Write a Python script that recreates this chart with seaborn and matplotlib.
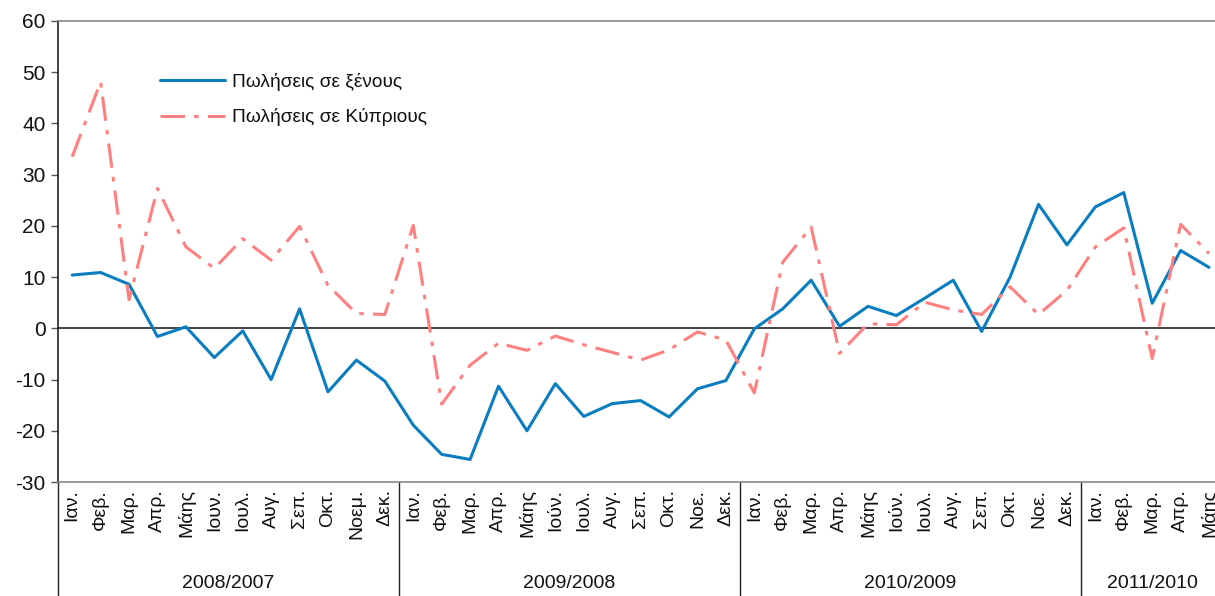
import matplotlib
matplotlib.use("Agg")
import matplotlib.pyplot as plt
import matplotlib.transforms as mtransforms
import seaborn as sns
import pandas as pd
import numpy as np

# ---- data ----
groups = ["2008/2007", "2009/2008", "2010/2009", "2011/2010"]
months_2008 = ["Ιαν.", "Φεβ.", "Μαρ.", "Απρ.", "Μάης", "Ιουν.", "Ιουλ.", "Αυγ.", "Σεπ.", "Οκτ.", "Νοεμ.", "Δεκ."]
months_2009 = ["Ιαν.", "Φεβ.", "Μαρ.", "Απρ.", "Μάης", "Ιούν.", "Ιουλ.", "Αυγ.", "Σεπ.", "Οκτ.", "Νοε.", "Δεκ."]
months_2010 = ["Ιαν.", "Φεβ.", "Μαρ.", "Απρ.", "Μάης", "Ιούν.", "Ιουλ.", "Αυγ.", "Σεπ.", "Οκτ.", "Νοε.", "Δεκ."]
months_2011 = ["Ιαν.", "Φεβ.", "Μαρ.", "Απρ.", "Μάης"]
group_sizes = [12, 12, 12, 5]

sales_foreign = [10.4, 10.9, 8.6, -1.6, 0.3, -5.7, -0.5, -10.0, 3.8, -12.4, -6.2, -10.3,
                 -18.9, -24.6, -25.6, -11.3, -20.0, -10.8, -17.2, -14.7, -14.1, -17.3, -11.8, -10.2,
                 -0.1, 3.8, 9.4, 0.4, 4.3, 2.5, 5.9, 9.4, -0.6, 10.0, 24.2, 16.3,
                 23.7, 26.5, 4.9, 15.2, 11.9]
sales_cypriots = [33.5, 48.1, 5.6, 27.3, 15.9, 11.7, 17.5, 13.3, 19.9, 8.4, 2.9, 2.7,
                  20.1, -14.8, -7.2, -2.9, -4.3, -1.5, -3.2, -4.7, -6.2, -4.2, -0.7, -2.3,
                  -12.6, 12.9, 19.8, -4.9, 0.9, 0.7, 5.1, 3.6, 2.7, 8.1, 2.7, 7.4,
                  15.9, 19.6, -5.9, 20.3, 14.6]
series_names = ["Πωλήσεις σε ξένους", "Πωλήσεις σε Κύπριους"]

month_labels = months_2008 + months_2009 + months_2010 + months_2011
idx = np.arange(len(month_labels))
df = pd.DataFrame({"idx": idx, "foreign": sales_foreign, "cyp": sales_cypriots})

# ---- style ----
sns.set_theme(style="white")
plt.rcParams["font.family"] = ["Liberation Sans", "DejaVu Sans"]
plt.rcParams["axes.unicode_minus"] = False

fig = plt.figure(figsize=(12.15, 5.96), dpi=100)
ax = fig.add_axes([58 / 1215, 1 - 482 / 596, 1 - 58 / 1215, (482 - 21) / 596])

blue = "#0A7DC0"
pink = "#FF8080"
dash = (8, 3, 1.5, 3)

sns.lineplot(data=df, x="idx", y="foreign", ax=ax, color=blue, linewidth=2.2,
             label=series_names[0])
sns.lineplot(data=df, x="idx", y="cyp", ax=ax, color=pink, linewidth=2.2,
             label=series_names[1], dashes=False)
ax.lines[1].set_dashes(dash)

ax.axhline(0, color="#222222", linewidth=1.2, zorder=1)

ax.set_xlim(-0.5, 40.21)
ax.set_ylim(-30, 60)
ax.set_yticks(np.arange(-30, 61, 10))
ax.tick_params(axis="y", labelsize=15, length=5, width=1, color="#555555", left=True, pad=4,
               labelcolor="#111111")
ax.set_xticks(idx)
ax.set_xticklabels(month_labels, rotation=90, fontsize=14, va="top", color="#111111")
ax.tick_params(axis="x", length=0, pad=5)
ax.set_xlabel("")
ax.set_ylabel("")

for s in ["top", "bottom"]:
    ax.spines[s].set_color("#888888")
    ax.spines[s].set_linewidth(1.2)
ax.spines["left"].set_color("#222222")
ax.spines["left"].set_linewidth(1.2)
ax.spines["right"].set_visible(False)

# group separators and labels
trans = mtransforms.blended_transform_factory(ax.transData, ax.transAxes)
start = 0
for g, n in zip(groups, group_sizes):
    ax.plot([start - 0.5, start - 0.5], [0, -0.26], transform=trans, color="#222222",
            linewidth=1, clip_on=False)
    ax.text(start - 0.5 + n / 2, -0.22, g, transform=trans, ha="center", va="center",
            fontsize=14, color="#111111")
    start += n

leg = ax.legend(loc="upper left", bbox_to_anchor=(160 / 1215, 1 - 73 / 596),
                bbox_transform=fig.transFigure, frameon=False, fontsize=13.8,
                handlelength=3.4, handletextpad=0.36, labelspacing=0.9,
                borderpad=0, borderaxespad=0)
for t in leg.get_texts():
    t.set_color("#111111")
leg.get_lines()[1].set_dashes(dash)

fig.savefig("out.png", dpi=100)
